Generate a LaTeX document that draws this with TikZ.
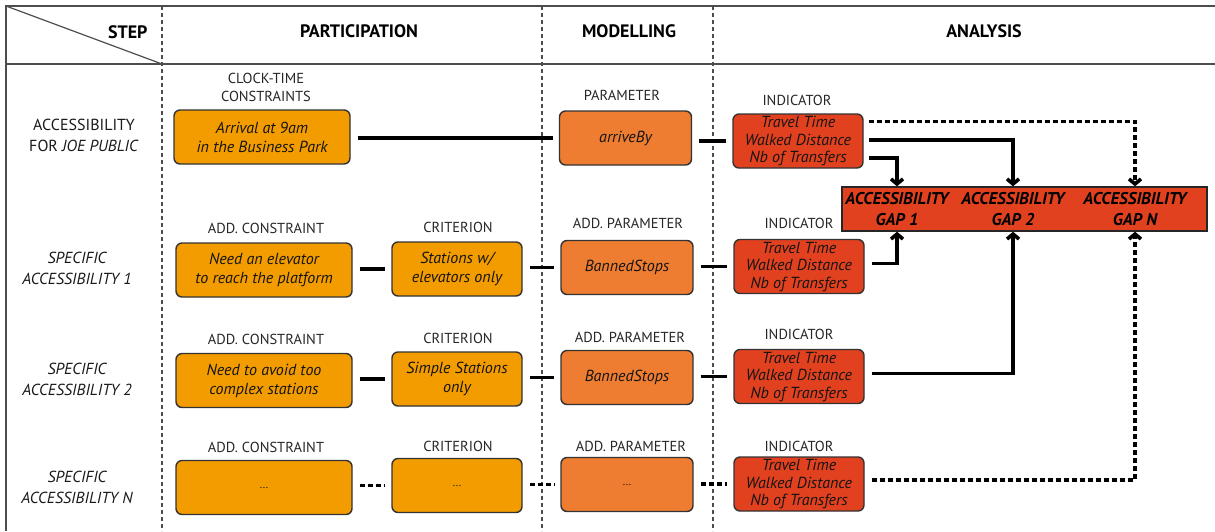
\documentclass[tikz,border=0pt]{standalone}
\usepackage{fontspec}
\setmainfont{PT Sans}
\usetikzlibrary{arrows.meta,calc}
\definecolor{pOrange}{HTML}{F39C00}
\definecolor{mOrange}{HTML}{EE7D31}
\definecolor{aRed}{HTML}{E2411F}
\definecolor{frameGray}{HTML}{4D4D4D}
\begin{document}
\begin{tikzpicture}[x=1pt,y=-1pt,
  box/.style={draw=black!80, line width=1.4pt, rounded corners=6pt, minimum height=54pt, align=center, inner sep=1pt, font=\fontsize{16}{19}\selectfont\itshape, text=black!92},
  pbox/.style={box, fill=pOrange},
  mbox/.style={box, fill=mOrange, minimum width=132pt},
  ibox/.style={box, fill=aRed, minimum width=130pt, font=\fontsize{16}{17.5}\selectfont\itshape},
  cbox/.style={pbox, minimum width=176pt},
  kbox/.style={pbox, minimum width=130pt},
  lab/.style={font=\fontsize{14.5}{18}\selectfont, text=black!85, align=center},
  hdr/.style={font=\fontsize{18}{20}\selectfont\bfseries},
  rowlab/.style={font=\fontsize{16}{21}\selectfont, text=black!90, align=center},
  gaptext/.style={font=\fontsize{17}{21}\selectfont\bfseries\itshape, align=center, inner sep=0pt},
  conn/.style={line width=3.6pt, shorten <=7pt, shorten >=6pt},
  dconn/.style={conn, dash pattern=on 5pt off 3pt},
  arr/.style={line width=3.6pt, -{Straight Barb[length=5pt,width=12pt]}},
  darr/.style={arr, dash pattern=on 5pt off 3pt},
  gridl/.style={frameGray, line width=1.8pt},
  vdash/.style={frameGray, line width=1.1pt, dash pattern=on 4pt off 3pt},
]
\useasboundingbox (0,0) rectangle (1215,531);
% grid
\draw[gridl] (1215,6) -- (6,6) -- (6,531);
\draw[gridl] (6,64) -- (1215,64);
\draw[frameGray, line width=1.2pt] (6,6) -- (162,64);
\draw[vdash] (162,6) -- (162,531);
\draw[vdash] (542,6) -- (542,531);
\draw[vdash] (713,6) -- (713,531);
% headers
\node[hdr, anchor=east] (hStep) at (151,32) {STEP};
\node[hdr] (hPart) at (359,31) {PARTICIPATION};
\node[hdr] (hMod) at (629,31) {MODELLING};
\node[hdr] (hAna) at (984,31) {ANALYSIS};
% row labels
\node[rowlab] (r1) at (84,135) {ACCESSIBILITY\\FOR \textit{JOE PUBLIC}};
\node[rowlab, font=\fontsize{16}{21}\selectfont\itshape] (r2) at (77,268) {SPECIFIC\\ACCESSIBILITY 1};
\node[rowlab, font=\fontsize{16}{21}\selectfont\itshape] (r3) at (77,379.5) {SPECIFIC\\ACCESSIBILITY 2};
\node[rowlab, font=\fontsize{16}{21}\selectfont\itshape] (r4) at (77,487) {SPECIFIC\\ACCESSIBILITY N};
% row 1
\node[lab] (l1a) at (266,87) {CLOCK-TIME\\CONSTRAINTS};
\node[lab] (l1p) at (622,95) {PARAMETER};
\node[lab] (l1i) at (797,100) {INDICATOR};
\node[cbox] (a1) at (262,137) {Arrival at 9am\\in the Business Park};
\node[mbox] (p1) at (625.5,138) {arriveBy};
\node[ibox] (i1) at (798,141) {Travel Time\\Walked Distance\\Nb of Transfers};
% row 2
\node[lab] (l2c) at (266,228) {ADD. CONSTRAINT};
\node[lab] (l2k) at (458,227) {CRITERION};
\node[lab] (l2p) at (628,223) {ADD. PARAMETER};
\node[lab] (l2i) at (799,223) {INDICATOR};
\node[cbox] (c2) at (264,270) {Need an elevator\\to reach the platform};
\node[kbox] (k2) at (457,269) {Stations w/\\elevators only};
\node[mbox] (p2) at (627,267.5) {BannedStops};
\node[ibox] (i2) at (799,266.5) {Travel Time\\Walked Distance\\Nb of Transfers};
% row 3
\node[lab] (l3c) at (266,339) {ADD. CONSTRAINT};
\node[lab] (l3k) at (458,338) {CRITERION};
\node[lab] (l3p) at (630,337) {ADD. PARAMETER};
\node[lab] (l3i) at (799,334) {INDICATOR};
\node[cbox] (c3) at (264,380.5) {Need to avoid too\\complex stations};
\node[kbox] (k3) at (457,379) {Simple Stations\\only};
\node[mbox] (p3) at (627,377.5) {BannedStops};
\node[ibox] (i3) at (799,376.5) {Travel Time\\Walked Distance\\Nb of Transfers};
% row 4
\node[lab] (l4c) at (266,447) {ADD. CONSTRAINT};
\node[lab] (l4k) at (458,446) {CRITERION};
\node[lab] (l4p) at (631,446) {ADD. PARAMETER};
\node[lab] (l4i) at (799,446) {INDICATOR};
\node[cbox, font=\fontsize{11}{12}\selectfont] (c4) at (264,487.5) {...};
\node[kbox, font=\fontsize{11}{12}\selectfont] (k4) at (457,485.5) {...};
\node[mbox, font=\fontsize{11}{12}\selectfont] (p4) at (627,484.5) {...};
\node[ibox] (i4) at (799,484) {Travel Time\\Walked Distance\\Nb of Transfers};
% gap box
\node[draw=black!85, line width=1.4pt, fill=aRed, minimum width=365pt, minimum height=44pt, inner sep=0pt] (gap) at (1024.5,209) {};
\node[gaptext] (g1) at (897,209.5) {ACCESSIBILITY\\GAP 1};
\node[gaptext] (g2) at (1013,209.5) {ACCESSIBILITY\\GAP 2};
\node[gaptext] (gN) at (1135,209.5) {ACCESSIBILITY\\GAP N};
% connectors row 1
\draw[conn] (a1.east |- p1.west) -- (p1.west);
\draw[conn] (p1.east |- i1.west) -- (i1.west);
% connectors row 2
\draw[conn] (c2.east |- k2.west) -- (k2.west);
\draw[conn] (k2.east |- p2.west) -- (p2.west);
\draw[conn] (p2.east |- i2.west) -- (i2.west);
% connectors row 3
\draw[conn] (c3.east |- k3.west) -- (k3.west);
\draw[conn] (k3.east |- p3.west) -- (p3.west);
\draw[conn] (p3.east |- i3.west) -- (i3.west);
% connectors row 4
\draw[dconn] (c4.east |- k4.west) -- (k4.west);
\draw[dconn] (k4.east |- p4.west) -- (p4.west);
\draw[dconn] (p4.east |- i4.west) -- (i4.west);
% to gaps
\coordinate (o1a) at ($(i1.north east)+(5,8)$);
\coordinate (o1b) at ($(i1.east)+(5,-1)$);
\coordinate (o1c) at ($(i1.south east)+(5,-11)$);
\draw[darr] (o1a) -| (gN |- gap.north);
\draw[arr] (o1b) -| (g2 |- gap.north);
\draw[arr] (o1c) -| (g1 |- gap.north);
\coordinate (o2) at ($(i2.east)+(7,-3)$);
\coordinate (o3) at ($(i3.east)+(7,-3)$);
\coordinate (o4) at ($(i4.east)+(7,-4)$);
\draw[arr] (o2) -| (g1 |- gap.south);
\draw[arr] (o3) -| (g2 |- gap.south);
\draw[darr] (o4) -| (gN |- gap.south);
\end{tikzpicture}
\end{document}
